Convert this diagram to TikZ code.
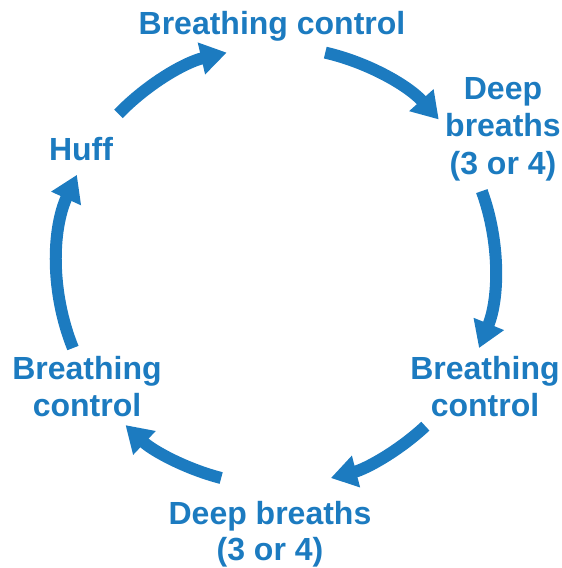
\documentclass[tikz,border=0pt]{standalone}
\usepackage{fontspec}
\setmainfont{Liberation Sans}
\usetikzlibrary{arrows.meta,calc}
\definecolor{cblue}{RGB}{28,123,192}
\begin{document}
\begin{tikzpicture}[x=1pt,y=-1pt,
  lbl/.style={text=cblue,font=\fontsize{32}{37.5}\selectfont\bfseries,align=center,inner sep=0pt,anchor=north},
  arr/.style={draw=cblue,line width=12pt,-{Triangle[width=31pt,length=26pt]}}]
\useasboundingbox (0,0) rectangle (562,568);
\coordinate (c) at (276,266);
\node[lbl] (t1) at (272,11) {Breathing control};
\node[lbl] (t2) at (503,77) {Deep\\breaths\\(3 or 4)};
\node[lbl] (t3) at (485,356) {Breathing\\control};
\node[lbl,font=\fontsize{32}{36}\selectfont\bfseries] (t4) at (270,501) {Deep breaths\\(3 or 4)};
\node[lbl] (t5) at (87,356) {Breathing\\control};
\node[lbl] (t6) at (81,137) {Huff};
\def\R{219}
\draw[arr] ($(c)+(-136:\R)$) arc[start angle=-136,end angle=-103,radius=\R];
\draw[arr] ($(c)+(-77:\R)$) arc[start angle=-77,end angle=-42,radius=\R];
\draw[arr] ($(c)+(-20:\R)$) arc[start angle=-20,end angle=22,radius=\R];
\draw[arr] ($(c)+(47:\R)$) arc[start angle=47,end angle=75.5,radius=\R];
\draw[arr] ($(c)+(104.5:\R)$) arc[start angle=104.5,end angle=133.4,radius=\R];
\draw[arr] ($(c)+(158:\R)$) arc[start angle=158,end angle=204.6,radius=\R];
\end{tikzpicture}
\end{document}
